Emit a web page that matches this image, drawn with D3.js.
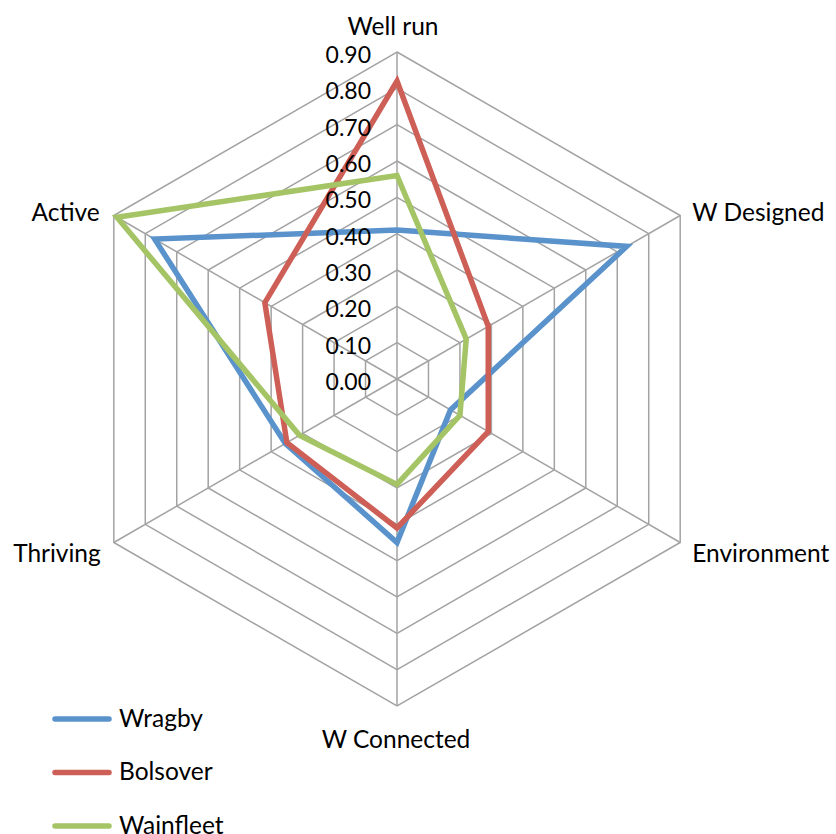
<!DOCTYPE html>
<html>
<head>
<meta charset="utf-8">
<script src="https://cdn.jsdelivr.net/npm/d3@7"></script>
<style>
  html, body { margin: 0; padding: 0; background: #fff; }
  svg { display: block; font-family: Lato, "Open Sans", sans-serif; }
</style>
</head>
<body>
<svg id="chart" width="836" height="834"></svg>
<script>
// Radar chart data
const categories = ["Well run", "W Designed", "Environment", "W Connected", "Thriving", "Active"];
const seriesNames = ["Wragby", "Bolsover", "Wainfleet"];
const wragby    = [0.41, 0.73, 0.17, 0.45, 0.355, 0.77];
const bolsover  = [0.82, 0.29, 0.29, 0.41, 0.35, 0.42];
const wainfleet = [0.56, 0.22, 0.20, 0.29, 0.31, 0.89];
const tickValues = [0, 0.1, 0.2, 0.3, 0.4, 0.5, 0.6, 0.7, 0.8, 0.9];
const colors = ["#5a93cc", "#cd5f57", "#a4c465"];

const seriesValues = [wragby, bolsover, wainfleet];

const svg = d3.select("#chart");
const cx = 397, cy = 379;

const r = d3.scaleLinear().domain([0, 0.9]).range([0, 327]);
const angle = d3.scalePoint().domain(categories).range([0, 2 * Math.PI * (categories.length - 1) / categories.length]);

function pt(cat, v) {
  const a = angle(cat);
  return [cx + r(v) * Math.sin(a), cy - r(v) * Math.cos(a)];
}

// grid rings
const grid = svg.append("g").attr("stroke", "#a3a3a3").attr("stroke-width", 1.5).attr("fill", "none");
tickValues.filter(t => t > 0).forEach(t => {
  grid.append("path")
    .attr("d", d3.line()(categories.map(c => pt(c, t))) + "Z");
});
// spokes
categories.forEach(c => {
  const [x, y] = pt(c, 0.9);
  grid.append("line").attr("x1", cx).attr("y1", cy).attr("x2", x).attr("y2", y);
});

// series
const line = d3.line();
seriesValues.forEach((vals, i) => {
  svg.append("path")
    .attr("d", line(categories.map((c, j) => pt(c, vals[j]))) + "Z")
    .attr("fill", "none")
    .attr("stroke", colors[i])
    .attr("stroke-width", 5.5)
    .attr("stroke-linejoin", "miter");
});

// radial tick labels
svg.append("g").selectAll("text").data(tickValues).join("text")
  .attr("x", 371)
  .attr("y", d => cy - r(d) + 2)
  .attr("text-anchor", "end")
  .attr("dominant-baseline", "central")
  .attr("font-size", 23)
  .attr("fill", "#000")
  .text(d => d3.format(".2f")(d));

// category labels
const labelLayout = [
  { anchor: "middle", dx: -4, dy: -27 },
  { anchor: "start",  dx: 12, dy: -4 },
  { anchor: "start",  dx: 12, dy: 10 },
  { anchor: "middle", dx: -1, dy: 32 },
  { anchor: "end",    dx: -13, dy: 10 },
  { anchor: "end",    dx: -14, dy: -4 }
];
svg.append("g").selectAll("text").data(categories).join("text")
  .attr("x", (c, i) => pt(c, 0.9)[0] + labelLayout[i].dx)
  .attr("y", (c, i) => pt(c, 0.9)[1] + labelLayout[i].dy)
  .attr("text-anchor", (c, i) => labelLayout[i].anchor)
  .attr("dominant-baseline", "central")
  .attr("font-size", 24.5)
  .attr("fill", "#000")
  .text(c => c);

// legend
const legend = svg.append("g");
const legY = d3.scalePoint().domain(seriesNames).range([719, 826]);
seriesNames.forEach((name, i) => {
  legend.append("line")
    .attr("x1", 55).attr("x2", 109)
    .attr("y1", legY(name)).attr("y2", legY(name))
    .attr("stroke", colors[i]).attr("stroke-width", 5.5)
    .attr("stroke-linecap", "round");
  legend.append("text")
    .attr("x", 119).attr("y", legY(name) - 2)
    .attr("dominant-baseline", "central")
    .attr("font-size", 24.5)
    .attr("fill", "#000")
    .text(name);
});
</script>
</body>
</html>
